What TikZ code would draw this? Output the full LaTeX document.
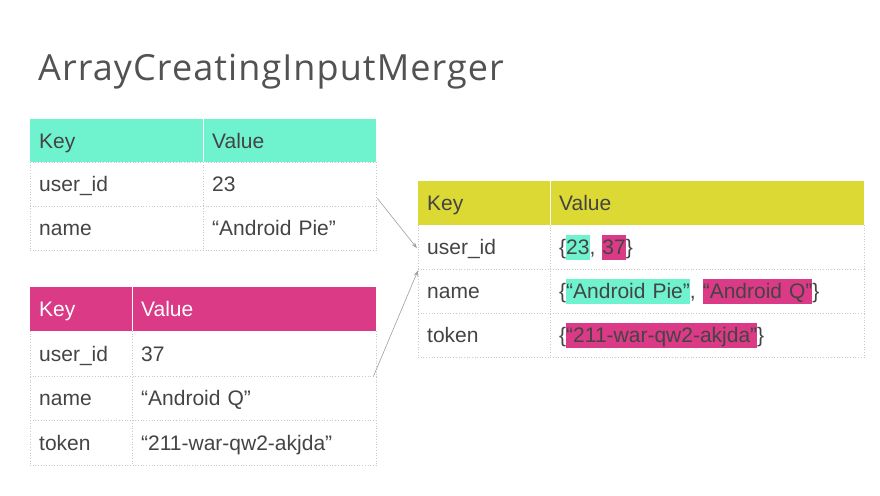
\documentclass[tikz,border=0pt]{standalone}
\usepackage{fontspec}
\setmainfont{Liberation Sans}
\newfontfamily\titlefont[LetterSpace=3.0]{Open Sans}
\usetikzlibrary{arrows.meta,calc}
\definecolor{mint}{HTML}{6FF3CF}
\definecolor{magen}{HTML}{DA3A86}
\definecolor{lime}{HTML}{DCD935}
\definecolor{txt}{HTML}{444444}
\definecolor{gridc}{HTML}{C8C8C8}
\definecolor{arrc}{HTML}{A0A0A0}
\newcommand\hlbox[2]{{\setlength\fboxsep{0pt}\colorbox{#1}{\rule[-0.27em]{0pt}{1.2em}#2}}}
\tikzset{
  cell/.style={anchor=north west, inner xsep=9pt, inner ysep=0pt, align=left,
    text height=19pt, text depth=4pt, text=txt,
    font=\fontsize{21}{25}\selectfont},
  gridline/.style={gridc, dotted, line width=0.7pt},
  sepline/.style={white, line width=1pt},
  flow/.style={arrc, line width=0.6pt, -{Stealth[length=6pt,width=4pt]}},
}
\begin{document}
\begin{tikzpicture}[x=1pt,y=-1pt]
\useasboundingbox[fill=white] (0,0) rectangle (880,495);
% title
\node[anchor=base west, inner sep=0pt, text=black!68, font=\titlefont\fontsize{36}{40}\selectfont] (title) at (38,81) {ArrayCreatingInputMerger};

% ---------- table 1 ----------
\fill[mint] (30,119) rectangle (376,162);
\draw[sepline] (203,119) -- (203,162);
\draw[gridline] (30,162) -- (30,250) (203,162) -- (203,250) (376,162) -- (376,250)
  (30,206) -- (376,206) (30,250) -- (376,250) (30,162) -- (376,162);
\node[cell, text width=155pt, minimum height=43pt] (t1k0) at (30,119) {Key};
\node[cell, text width=155pt, minimum height=43pt] (t1v0) at (203,119) {Value};
\node[cell, text width=155pt, minimum height=44pt] (t1k1) at (30,162) {user\_id};
\node[cell, text width=155pt, minimum height=44pt] (t1v1) at (203,162) {23};
\node[cell, text width=155pt, minimum height=44pt] (t1k2) at (30,206) {name};
\node[cell, text width=155pt, minimum height=44pt] (t1v2) at (203,206) {“Android Pie”};

% ---------- table 2 ----------
\fill[magen] (30,287) rectangle (376,331);
\draw[sepline] (132,287) -- (132,331);
\draw[gridline] (30,331) -- (30,465) (132,331) -- (132,465) (376,331) -- (376,465)
  (30,376) -- (376,376) (30,420) -- (376,420) (30,465) -- (376,465);
\node[cell, text=white, text width=84pt, minimum height=44pt] (t2k0) at (30,287) {Key};
\node[cell, text=white, text width=226pt, minimum height=44pt] (t2v0) at (132,287) {Value};
\node[cell, text width=84pt, minimum height=45pt] (t2k1) at (30,331) {user\_id};
\node[cell, text width=226pt, minimum height=45pt] (t2v1) at (132,331) {37};
\node[cell, text width=84pt, minimum height=44pt] (t2k2) at (30,376) {name};
\node[cell, text width=226pt, minimum height=44pt] (t2v2) at (132,376) {“Android Q”};
\node[cell, text width=84pt, minimum height=45pt] (t2k3) at (30,420) {token};
\node[cell, text width=226pt, minimum height=45pt] (t2v3) at (132,420) {“211-war-qw2-akjda”};

% ---------- table 3 ----------
\fill[lime] (418,181) rectangle (864,225);
\draw[sepline] (550,181) -- (550,225);
\draw[gridline] (418,225) -- (418,357) (550,225) -- (550,357) (864,225) -- (864,357)
  (418,269) -- (864,269) (418,313) -- (864,313) (418,357) -- (864,357);
\node[cell, text width=114pt, minimum height=44pt] (t3k0) at (418,181) {Key};
\node[cell, text width=296pt, minimum height=44pt] (t3v0) at (550,181) {Value};
\node[cell, text width=114pt, minimum height=44pt] (t3k1) at (418,225) {user\_id};
\node[cell, text width=296pt, minimum height=44pt] (t3v1) at (550,225) {\{\hlbox{mint}{23}, \hlbox{magen}{37}\}};
\node[cell, text width=114pt, minimum height=44pt] (t3k2) at (418,269) {name};
\node[cell, text width=296pt, minimum height=44pt] (t3v2) at (550,269) {\{\hlbox{mint}{“Android Pie”}, \hlbox{magen}{“Android Q”}\}};
\node[cell, text width=114pt, minimum height=44pt] (t3k3) at (418,313) {token};
\node[cell, text width=296pt, minimum height=44pt] (t3v3) at (550,313) {\{\hlbox{magen}{“211-war-qw2-akjda”}\}};

% ---------- arrows ----------
\draw[flow] ($(t1v1.south east)+(1,-8)$) -- ($(t3k1.west)+(-1,1)$);
\draw[flow] ($(t2v1.south east)+(-3,0)$) -- ($(t3k1.south west)+(0,1)$);
\end{tikzpicture}
\end{document}
